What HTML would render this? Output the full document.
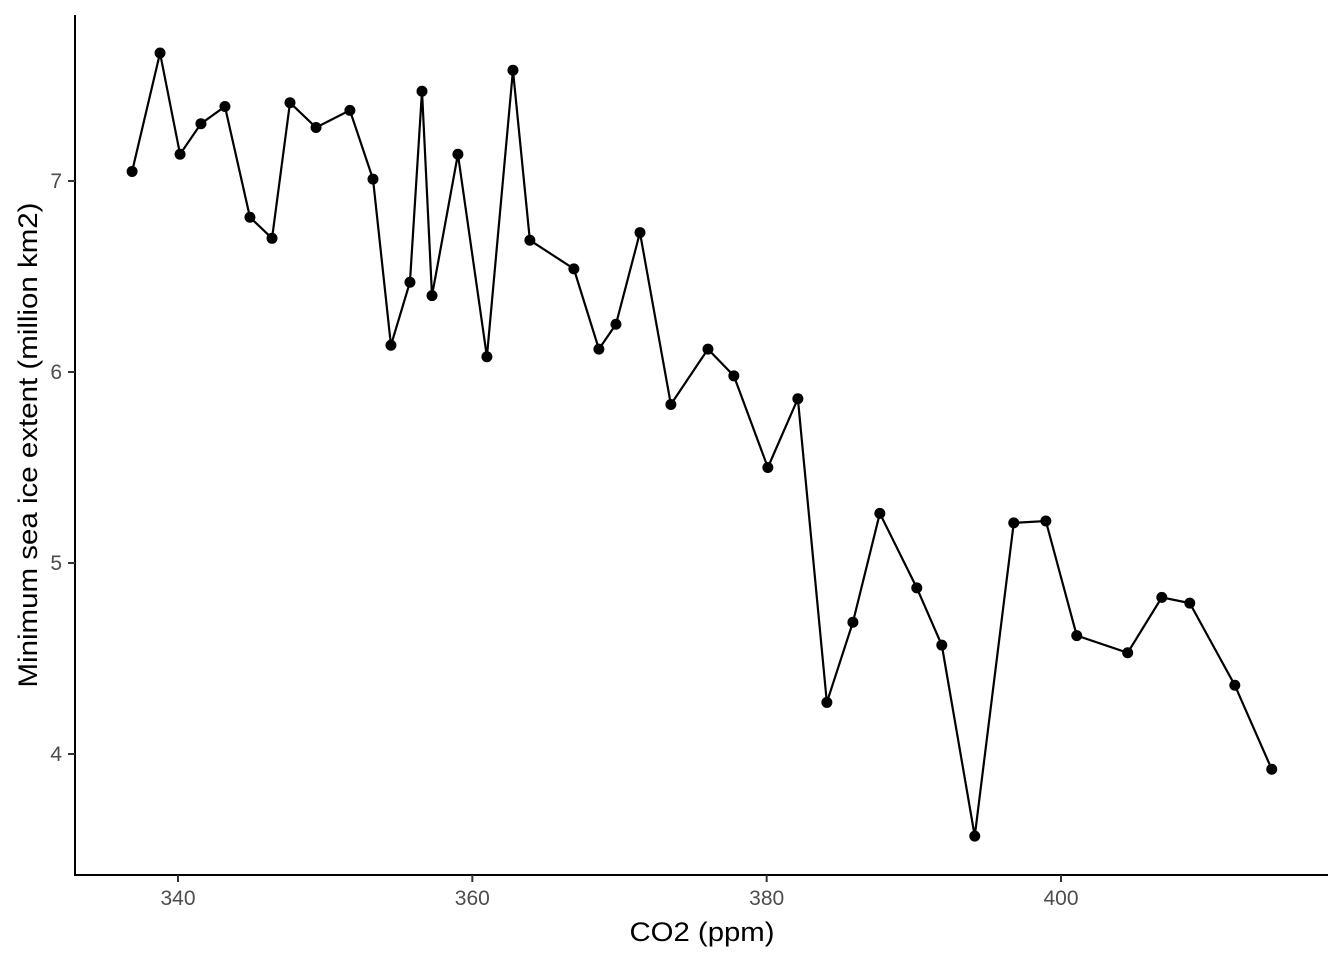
<!DOCTYPE html>
<html><head><meta charset="utf-8"><style>
html,body{margin:0;padding:0;background:#fff;}
svg{display:block;font-family:"Liberation Sans",Arial,sans-serif;}
</style></head><body>
<svg id="chart" width="1344" height="960">
<g id="axes"></g>
<g id="marks"></g>
<text x="702" y="941" text-anchor="middle" font-size="27" textLength="145" lengthAdjust="spacingAndGlyphs" fill="#000">CO2 (ppm)</text>
<text transform="translate(37,445) rotate(-90)" text-anchor="middle" font-size="27" textLength="485" lengthAdjust="spacingAndGlyphs" fill="#000">Minimum sea ice extent (million km2)</text>
</svg>
<script>
const co2 = [336.88,338.78,340.14,341.56,343.19,344.89,346.39,347.61,349.38,351.68,353.25,354.47,355.76,356.58,357.26,359.02,360.99,362.76,363.91,366.90,368.60,369.76,371.39,373.49,376.01,377.77,380.08,382.12,384.09,385.86,387.69,390.20,391.90,394.14,396.79,398.97,401.07,404.53,406.85,408.75,411.81,414.32];
const ice = [7.05,7.67,7.14,7.30,7.39,6.81,6.70,7.41,7.28,7.37,7.01,6.14,6.47,7.47,6.40,7.14,6.08,7.58,6.69,6.54,6.12,6.25,6.73,5.83,6.12,5.98,5.50,5.86,4.27,4.69,5.26,4.87,4.57,3.57,5.21,5.22,4.62,4.53,4.82,4.79,4.36,3.92];
const xTicks = [340,360,380,400];
const yTicks = [4,5,6,7];
const NS="http://www.w3.org/2000/svg";
const sx = v => 178 + (v-340)*(1061-178)/60;
const sy = v => 181 + (7-v)*(754-181)/3;
function mk(tag, attrs, parent){const e=document.createElementNS(NS,tag);for(const k in attrs)e.setAttribute(k,attrs[k]);parent.appendChild(e);return e;}
const axes=document.getElementById('axes'), marks=document.getElementById('marks');
let l=mk('line',{x1:75,y1:15,x2:75,y2:876,stroke:'#000','stroke-width':2},axes);


l=mk('line',{x1:74,y1:875,x2:1328,y2:875,stroke:'#000','stroke-width':2},axes);


xTicks.forEach(t=>{
  const x=sx(t);
  const tk=mk('line',{x1:x,y1:875,x2:x,y2:882,stroke:'#333','stroke-width':2},axes);
  
  
  const tx=mk('text',{x:x,y:905,'text-anchor':'middle','font-size':21,fill:'#4d4d4d'},axes);
  tx.textContent=t;
  
  
});
yTicks.forEach(t=>{
  const y=sy(t);
  const tk=mk('line',{x1:68,y1:y,x2:75,y2:y,stroke:'#333','stroke-width':2},axes);
  
  
  const tx=mk('text',{x:62,y:y+7,'text-anchor':'end','font-size':21,fill:'#4d4d4d'},axes);
  tx.textContent=t;
  
  
});
const pts=co2.map((c,i)=>sx(c)+','+sy(ice[i])).join(' ');
const pl=mk('polyline',{points:pts,fill:'none',stroke:'#000','stroke-width':2.2},marks);


co2.forEach((c,i)=>{
  const p=mk('circle',{cx:sx(c),cy:sy(ice[i]),r:5.5,fill:'#000'},marks);
  
  
});
</script>
</body></html>
